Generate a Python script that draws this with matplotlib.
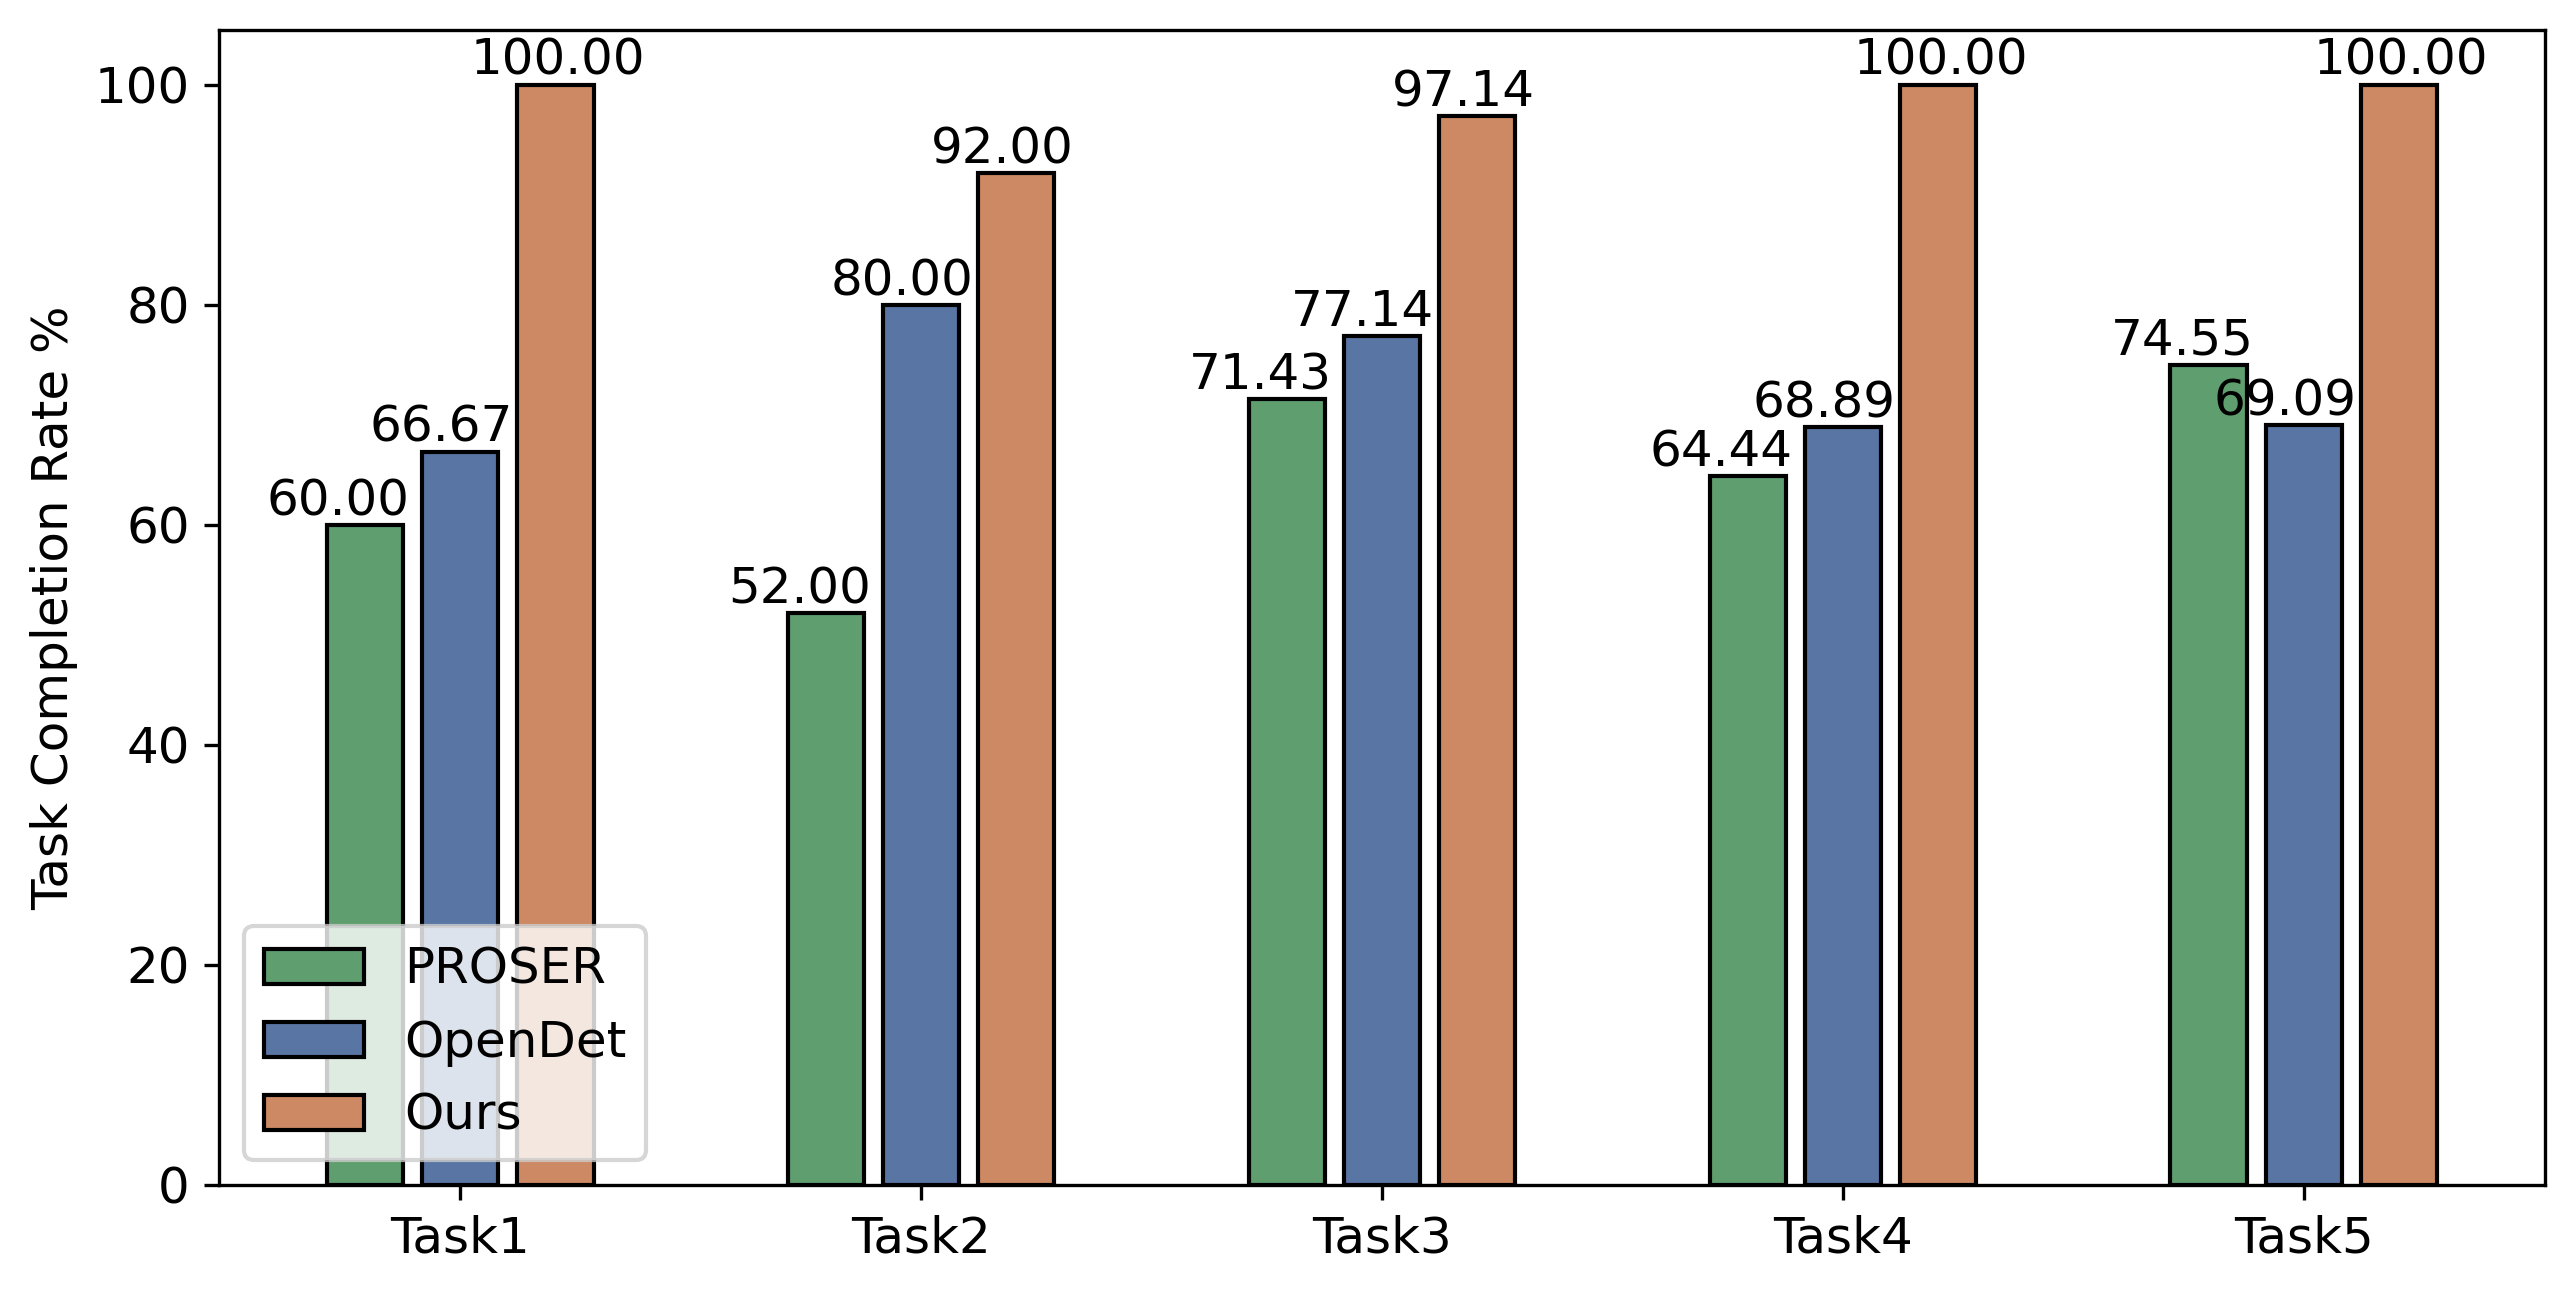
import matplotlib
matplotlib.use('Agg')
import matplotlib.pyplot as plt
import numpy as np

# data
tasks = ['Task1', 'Task2', 'Task3', 'Task4', 'Task5']
proser = [60.00, 52.00, 71.43, 64.44, 74.55]
opendet = [66.67, 80.00, 77.14, 68.89, 69.09]
ours = [100.00, 92.00, 97.14, 100.00, 100.00]

methods = ['PROSER', 'OpenDet', 'Ours']
colors = ['#5f9e6e', '#5975a4', '#cc8963']

fig = plt.figure(figsize=(2574/300, 1292/300), dpi=300)
ax = fig.add_subplot(111)
fig.subplots_adjust(left=219/2574, right=2545/2574, top=1-30/1292, bottom=1-1185/1292)

x = np.arange(len(tasks))
step = 0.207
w = 0.165
# value labels are left-aligned, shifted relative to the group centre
label_shift = [-0.419, -0.197, 0.022]

for i, (vals, name, c) in enumerate(zip([proser, opendet, ours], methods, colors)):
    ax.bar(x + (i - 1)*step, vals, width=w, color=c, edgecolor='black',
           linewidth=1.0, label=name)
    for xi, v in zip(x, vals):
        ax.text(xi + label_shift[i], v, '%.2f' % v, ha='left', va='bottom', fontsize=12)

ax.set_xticks(x)
ax.set_xticklabels(tasks, fontsize=12)
ax.tick_params(axis='y', labelsize=12)
ax.set_ylabel('Task Completion Rate %', fontsize=12)
ax.set_xlim(-0.523, 4.523)
ax.set_ylim(0, 105)
ax.legend(loc='lower left', fontsize=12)

fig.savefig('out.png', dpi=300)
